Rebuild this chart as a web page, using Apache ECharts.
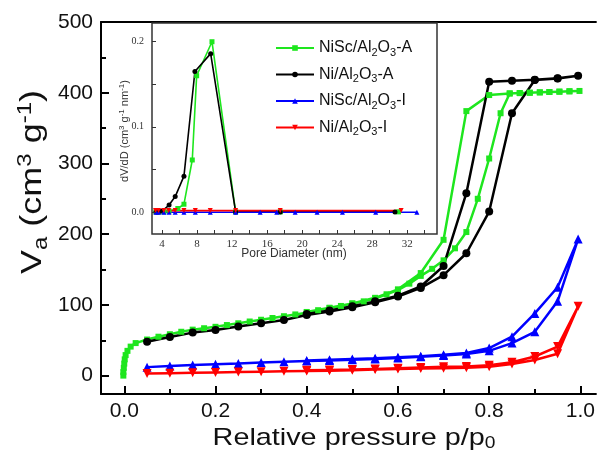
<!DOCTYPE html>
<html>
<head>
<meta charset="utf-8">
<script src="https://cdn.jsdelivr.net/npm/echarts@6/dist/echarts.min.js"></script>
<style>html,body{margin:0;padding:0;background:#fff}#c{width:598px;height:455px}</style>
</head>
<body>
<div id="c"></div>
<script>
// ---------- data (main isotherms) ----------
const names = ['NiSc/Al2O3-A', 'Ni/Al2O3-A', 'NiSc/Al2O3-I', 'Ni/Al2O3-I'];

const greenAdsP = [-0.002,-0.002,-0.001,0,0.001,0.003,0.007,0.014,0.025,0.05,0.075,0.1,0.125,0.15,0.175,0.2,0.225,0.25,0.275,0.3,0.325,0.35,0.375,0.4,0.425,0.45,0.475,0.5,0.525,0.55,0.575,0.6,0.625,0.65,0.675,0.7,0.725,0.75,0.775,0.8,0.825,0.845,0.867,0.889,0.911,0.932,0.954,0.976,0.998];
const greenAdsV = [0,5,11,17,23,29,35,41,46,51,55,58.5,62,65,67,69,71.5,74,76.5,79,81.5,84,86.5,89,92.5,95.5,98.5,102,105,109,115,121,130,141,151,163,180,203,250,307,371,399,399.5,400,400.5,401,401.5,402,402.5];
const greenDesP = [0.976,0.954,0.932,0.911,0.889,0.867,0.845,0.8,0.75,0.7,0.65,0.6,0.55,0.5,0.45,0.4];
const greenDesV = [402,401.5,401,400.5,400,399.5,399,396.7,374,192,145,122,110,102,96,90];

const blackAdsP = [0.05,0.1,0.15,0.2,0.25,0.3,0.35,0.4,0.45,0.5,0.55,0.6,0.65,0.7,0.75,0.8,0.85,0.9,0.95,0.995];
const blackAdsV = [48,54.7,60.8,64.6,69.3,74,78.7,85.8,90.5,96.7,103.7,111.7,124,142,173,232,371,418,420,424];
const blackDesP = [0.95,0.9,0.85,0.8,0.75,0.7,0.65,0.6,0.55,0.5,0.45,0.4];
const blackDesV = [420.5,418.5,417,415.5,258,155,126,113,105,98,92,87];

const blueAdsP = [0.05,0.1,0.15,0.2,0.25,0.3,0.35,0.4,0.45,0.5,0.55,0.6,0.65,0.7,0.75,0.8,0.85,0.9,0.95,0.995];
const blueAdsV = [12,13.5,15,16,17,18.5,19.5,20.5,21.5,22.5,23.5,25,26.5,28.5,30.5,35,46,62,105,193];
const blueDesP = [0.95,0.9,0.85,0.8,0.75,0.7,0.65,0.6,0.55,0.5,0.45,0.4];
const blueDesV = [125,88,55,39,32,29.5,27.5,26,24.5,23.5,22.5,21.5];

const redAdsP = [0.05,0.1,0.15,0.2,0.25,0.3,0.35,0.4,0.45,0.5,0.55,0.6,0.65,0.7,0.75,0.8,0.85,0.9,0.95,0.995];
const redAdsV = [3,3.5,4,4.5,5,5.5,6,6.5,7,7.5,8.5,9.5,10,10.5,11,12.5,16.5,22,31,98];
const redDesP = [0.95,0.9,0.85,0.8,0.75,0.7,0.65,0.6,0.55,0.5,0.45,0.4];
const redDesV = [41,27,19,14.5,13,12.5,11.5,10.5,9.5,8.5,8,7.5];

// ---------- data (inset pore size distribution) ----------
const greenD = [3.3,3.6,4.2,4.8,5.8,6.5,7.45,7.95,9.7,12.4,17.5,31];
const greenDV = [0,0,0,0.001,0.004,0.009,0.061,0.16,0.2,0,0,0];
const blackD = [3.3,3.6,4.0,4.8,5.5,6.5,7.75,9.55,12.4,17.5,30.6];
const blackDV = [0,0,0.001,0.008,0.018,0.042,0.165,0.186,0,0,0];
const blueD = [3.3,3.6,4.2,4.8,5.5,6.5,7.8,9.5,12.4,15.2,17.1,19.2,21.7,24.6,28.4,33.1];
const blueDV = [-0.0005,-0.0005,-0.0005,-0.0005,-0.0005,-0.0005,-0.0005,-0.0005,-0.0005,-0.0005,-0.0005,-0.0005,-0.0005,-0.0005,-0.0005,-0.0005];
const redD = [3.25,3.6,4.2,4.75,5.5,6.5,7.8,9.5,12.4,17.5,31.3];
const redDV = [0.0015,0.0015,0.0015,0.0015,0.0015,0.0015,0.0015,0.0015,0.0015,0.0015,0.0015];

// ---------- ticks ----------
const xMajor = [0,0.2,0.4,0.6,0.8,1.0];
const xMinor = [0.1,0.3,0.5,0.7,0.9];
const yMajor = [0,100,200,300,400,500];
const yMinor = [50,150,250,350,450];
const insetXTicks = [4,6,8,10,12,14,16,18,20,22,24,26,28,30,32,34];
const insetXLabels = [4,8,12,16,20,24,28,32];
const insetYTicks = [0,0.05,0.1,0.15,0.2];
const insetYLabels = [0,0.1,0.2];

const colors = ['#1ee61e', '#000000', '#0000ff', '#ff0000'];
const symbols = ['rect', 'circle', 'triangle', 'triangle'];
const rotates = [0, 0, 0, 180];
const sizesMain = [6, 8, 9, 9];
const sizesInset = [5, 5, 5, 5];

function zip(a, b) { return a.map((v, i) => [v, b[i]]); }

const mainData = [
  zip(greenAdsP, greenAdsV).concat(zip(greenDesP, greenDesV)),
  zip(blackAdsP, blackAdsV).concat(zip(blackDesP, blackDesV)),
  zip(blueAdsP, blueAdsV).concat(zip(blueDesP, blueDesV)),
  zip(redAdsP, redAdsV).concat(zip(redDesP, redDesV))
];
const insetData = [zip(greenD, greenDV), zip(blackD, blackDV), zip(blueD, blueDV), zip(redD, redDV)];

const FONT = "'Liberation Sans', Arial, sans-serif";
const SERIF = "'Liberation Serif', 'Times New Roman', serif";

const series = [];
for (let i = 0; i < 4; i++) {
  series.push({
    name: names[i], type: 'line', xAxisIndex: 0, yAxisIndex: 0,
    data: mainData[i], symbol: symbols[i], symbolRotate: rotates[i], symbolSize: sizesMain[i],
    showSymbol: true, animation: false,
    lineStyle: { color: colors[i], width: 2.5 }, itemStyle: { color: colors[i], borderWidth: 0 },
    z: 3
  });
}
for (let i = 0; i < 4; i++) {
  series.push({
    name: names[i], type: 'line', xAxisIndex: 3, yAxisIndex: 2,
    data: insetData[i], symbol: symbols[i], symbolRotate: rotates[i], symbolSize: sizesInset[i],
    showSymbol: true, animation: false,
    lineStyle: { color: colors[i], width: 1.6 }, itemStyle: { color: colors[i], borderWidth: 0 },
    z: 6
  });
}

const chart = echarts.init(document.getElementById('c'), null, { renderer: 'canvas' });
chart.setOption({
  animation: false,
  backgroundColor: '#ffffff',
  grid: [
    { left: 101, right: 0, top: 22, bottom: 61, show: false },
    { left: 152, top: 23, width: 285, height: 211, show: true, borderColor: '#333', borderWidth: 1.5, backgroundColor: '#fff', z: 4 }
  ],
  legend: {
    data: names, orient: 'vertical', left: 270, top: 33,
    itemWidth: 38, itemHeight: 7, itemGap: 6.5, z: 8,
    formatter: n => n.replace(/(\d)/g, '{s|$1}'),
    textStyle: { fontFamily: FONT, fontSize: 16, color: '#111', lineHeight: 20,
      rich: { s: { fontFamily: FONT, fontSize: 11, color: '#111', verticalAlign: 'bottom', lineHeight: 10 } } }
  },
  xAxis: [
    { gridIndex: 0, type: 'value', min: -0.051, max: 1.034, position: 'bottom',
      axisLine: { show: true, onZero: false, lineStyle: { color: '#000', width: 2 } },
      axisTick: { show: true, inside: true, length: 8, customValues: xMajor, lineStyle: { color: '#000', width: 2 } },
      axisLabel: { show: true, customValues: xMajor, formatter: v => v.toFixed(1), fontFamily: FONT, fontSize: 21, color: '#111', margin: 7 },
      splitLine: { show: false } },
    { gridIndex: 0, type: 'value', min: -0.051, max: 1.034, position: 'bottom',
      axisLine: { show: false, onZero: false },
      axisTick: { show: true, inside: true, length: 5, customValues: xMinor, lineStyle: { color: '#000', width: 2 } },
      axisLabel: { show: false }, splitLine: { show: false } },
    { gridIndex: 0, type: 'value', min: -0.051, max: 1.034, position: 'top',
      axisLine: { show: true, onZero: false, lineStyle: { color: '#000', width: 2 } },
      axisTick: { show: false }, axisLabel: { show: false }, splitLine: { show: false } },
    { gridIndex: 1, type: 'value', min: 2.85, max: 35.4, position: 'bottom',
      axisLine: { show: false, onZero: false },
      axisTick: { show: true, inside: true, length: 4, customValues: insetXTicks, lineStyle: { color: '#333', width: 1 } },
      axisLabel: { show: true, customValues: insetXLabels, fontFamily: SERIF, fontSize: 11, color: '#333', margin: 5 },
      splitLine: { show: false }, z: 7 }
  ],
  yAxis: [
    { gridIndex: 0, type: 'value', min: -26, max: 500, position: 'left',
      axisLine: { show: true, onZero: false, lineStyle: { color: '#000', width: 2 } },
      axisTick: { show: true, inside: true, length: 8, customValues: yMajor, lineStyle: { color: '#000', width: 2 } },
      axisLabel: { show: true, customValues: yMajor, fontFamily: FONT, fontSize: 21, color: '#111', margin: 8 },
      splitLine: { show: false } },
    { gridIndex: 0, type: 'value', min: -26, max: 500, position: 'left',
      axisLine: { show: false, onZero: false },
      axisTick: { show: true, inside: true, length: 5, customValues: yMinor, lineStyle: { color: '#000', width: 2 } },
      axisLabel: { show: false }, splitLine: { show: false } },
    { gridIndex: 1, type: 'value', min: -0.026, max: 0.222, position: 'left',
      axisLine: { show: false, onZero: false },
      axisTick: { show: true, inside: true, length: 4, customValues: insetYTicks, lineStyle: { color: '#333', width: 1 } },
      axisLabel: { show: true, customValues: insetYLabels, formatter: v => v.toFixed(1), fontFamily: SERIF, fontSize: 10, color: '#333', margin: 8 },
      splitLine: { show: false }, z: 7 }
  ],
  graphic: [
    { type: 'text', x: 33, y: 182, rotation: Math.PI / 2, scaleX: 1.2, z: 10,
      style: { text: 'V{sub|a} (cm{sup|3} g{sup|-1})', fill: '#111', fontFamily: FONT, fontSize: 30, lineHeight: 36,
        align: 'center', verticalAlign: 'middle',
        rich: { sub: { fontFamily: FONT, fontSize: 20, lineHeight: 22, verticalAlign: 'bottom', fill: '#111' },
                sup: { fontFamily: FONT, fontSize: 20, lineHeight: 22, verticalAlign: 'top', fill: '#111' } } } },
    { type: 'text', x: 354, y: 438, z: 10, scaleX: 1.2,
      style: { text: 'Relative pressure p/p{sub|0}', fill: '#111', fontFamily: FONT, fontSize: 24, lineHeight: 28,
        align: 'center', verticalAlign: 'middle',
        rich: { sub: { fontFamily: FONT, fontSize: 16, lineHeight: 16, verticalAlign: 'bottom', fill: '#111' } } } },
    { type: 'text', x: 294, y: 254, z: 10,
      style: { text: 'Pore Diameter (nm)', fill: '#333', fontFamily: FONT, fontSize: 12, align: 'center', verticalAlign: 'middle' } },
    { type: 'text', x: 125, y: 131, rotation: Math.PI / 2, z: 10,
      style: { text: 'dV/dD (cm{sup|3} g{sup|-1} nm{sup|-1})', fill: '#333', fontFamily: FONT, fontSize: 11, lineHeight: 14,
        align: 'center', verticalAlign: 'middle',
        rich: { sup: { fontFamily: FONT, fontSize: 8, lineHeight: 8, verticalAlign: 'top', fill: '#333' } } } }
  ],
  series: series
});
</script>
</body>
</html>
